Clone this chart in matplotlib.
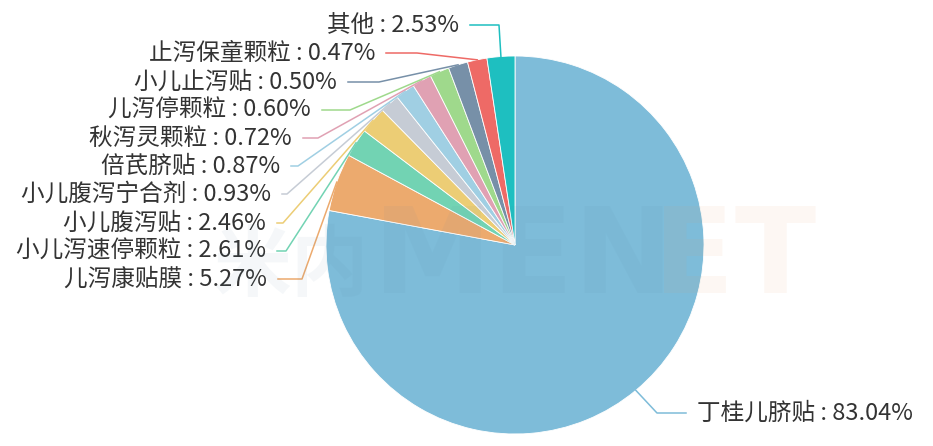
import matplotlib
matplotlib.use('Agg')
import matplotlib.pyplot as plt
import numpy as np

plt.rcParams['font.family'] = ['Noto Sans CJK SC', 'DejaVu Sans']

# 数据
names = ['丁桂儿脐贴', '儿泻康贴膜', '小儿泻速停颗粒', '小儿腹泻贴', '小儿腹泻宁合剂',
         '倍芪脐贴', '秋泻灵颗粒', '儿泻停颗粒', '小儿止泻贴', '止泻保童颗粒', '其他']
shares = [83.04, 5.27, 2.61, 2.46, 0.93, 0.87, 0.72, 0.60, 0.50, 0.47, 2.53]

colors = ['#7ebcd9', '#ecaa6e', '#72d3b3', '#eccd75', '#c6ccd5', '#a0cfe3',
          '#e0a1b3', '#9fd98c', '#7790a8', '#ee6a66', '#1ebfc0']

# 标签位置(像素, y向下)
label_y = [413, 279, 251, 223, 194, 166, 138, 110, 82, 53, 25]
elbow_x = [657, 302, 286, 283, 287, 298, 318, 350, 379, 417, 499]
end_x = [686, 278, 277, 277, 282, 291, 303, 322, 348, 386, 470]

W, H = 933, 446
cx, cy, R = 515, 245, 189


def Y(y):
    return H - y


def min_angle_sizes(vals, min_deg=6.0):
    # 类似 echarts 的 minAngle
    total = sum(vals)
    small = [v / total * 360 < min_deg for v in vals]
    rest = 360 - min_deg * sum(small)
    big_sum = sum(v for v, s in zip(vals, small) if not s)
    return [min_deg if s else rest * v / big_sum for v, s in zip(vals, small)]


sizes = min_angle_sizes(shares)

fig = plt.figure(figsize=(W / 100, H / 100), dpi=100)
ax = fig.add_axes([0, 0, 1, 1])

ax.pie(sizes, colors=colors, startangle=90, counterclock=False,
       center=(cx, Y(cy)), radius=R,
       wedgeprops=dict(edgecolor='white', linewidth=0.6))

# 引导线 + 标签
cum = 0
for i, (name, v) in enumerate(zip(names, shares)):
    mid = np.deg2rad(90 - (cum + sizes[i] / 2))
    cum += sizes[i]
    rx = cx + R * np.cos(mid)
    ry = Y(cy) + R * np.sin(mid)
    ly = Y(label_y[i])
    ax.plot([rx, elbow_x[i], end_x[i]], [ry, ly, ly], color=colors[i], lw=1.1,
            zorder=3)
    txt = f'{name} : {v:.2f}%'
    if i == 0:
        ax.text(end_x[i] + 11, ly, txt, ha='left', va='center', fontsize=17,
                color='#333333')
    else:
        ax.text(end_x[i] - 11, ly, txt, ha='right', va='center', fontsize=17,
                color='#333333')

# 水印
ax.text(213, Y(290), '米内', fontsize=56, fontweight='bold', color='#5587a5',
        alpha=0.06, ha='left', va='baseline', zorder=5)
ax.text(373, Y(293), 'MEN', fontsize=86, fontweight='bold', family='DejaVu Sans',
        color='#5587a5', alpha=0.06, ha='left', va='baseline', zorder=5)
ax.text(816, Y(293), 'ET', fontsize=86, fontweight='bold', family='DejaVu Sans',
        color='#eb9b5f', alpha=0.07, ha='right', va='baseline', zorder=5)

ax.set_xlim(0, W)
ax.set_ylim(0, H)
ax.set_aspect('equal')
ax.axis('off')

fig.savefig('out.png', dpi=100)
